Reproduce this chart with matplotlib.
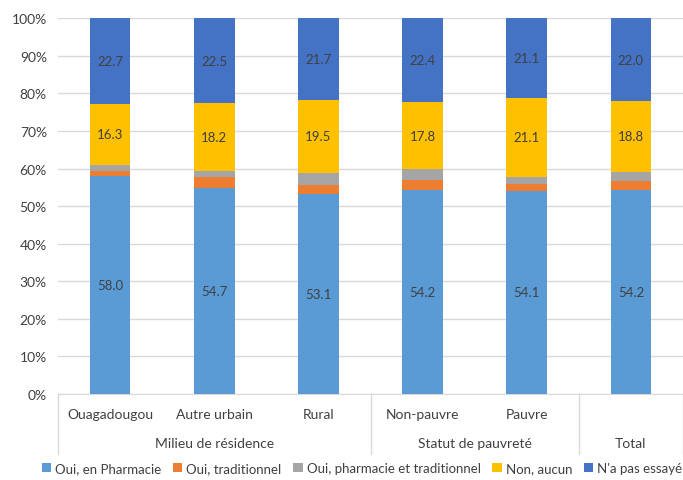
import numpy as np
import matplotlib.pyplot as plt

plt.rcParams['font.family'] = ['Lato', 'DejaVu Sans']

categories = ['Ouagadougou', 'Autre urbain', 'Rural', 'Non-pauvre', 'Pauvre', '']
groups = ['Milieu de résidence', 'Statut de pauvreté', 'Total']
group_sizes = [3, 2, 1]

series_names = ['Oui, en Pharmacie', 'Oui, traditionnel',
                'Oui, pharmacie et traditionnel', 'Non, aucun', "N'a pas essayé"]
pharmacie = [58.0, 54.7, 53.1, 54.2, 54.1, 54.2]
traditionnel = [1.4, 3.0, 2.5, 2.8, 1.7, 2.6]
pharma_trad = [1.6, 1.6, 3.2, 2.8, 2.0, 2.4]
non_aucun = [16.3, 18.2, 19.5, 17.8, 21.1, 18.8]
pas_essaye = [22.7, 22.5, 21.7, 22.4, 21.1, 22.0]
labelled = [True, False, False, True, True]

colors = ['#5B9BD5', '#ED7D31', '#A5A5A5', '#FFC000', '#4472C4']
txt = '#404040'

fig = plt.figure(figsize=(6.83, 4.81), dpi=100)
ax = fig.add_axes([0.085, 0.179, 0.915, 0.781])

pos = np.arange(len(categories))
width = 0.39
bottom = np.zeros(len(pos))
data = [pharmacie, traditionnel, pharma_trad, non_aucun, pas_essaye]
for vals, name, c, lab in zip(data, series_names, colors, labelled):
    vals = np.array(vals)
    ax.bar(pos, vals, width, bottom=bottom, color=c, label=name, zorder=3)
    if lab:
        for x, b, v in zip(pos, bottom, vals):
            ax.text(x, b + v / 2, f'{v:.1f}', ha='center', va='center',
                    fontsize=9.5, color=txt, zorder=4)
    bottom += vals

ax.set_xlim(-0.5, len(pos) - 0.5)
ax.set_ylim(0, 100)
ax.set_yticks(np.arange(0, 101, 10))
ax.set_yticklabels([f'{t}%' for t in range(0, 101, 10)], fontsize=10, color=txt)
ax.yaxis.grid(True, color='#D9D9D9', linewidth=1, zorder=0)
for s in ['top', 'right', 'left']:
    ax.spines[s].set_visible(False)
ax.spines['bottom'].set_color('#D9D9D9')
ax.tick_params(axis='y', length=0, pad=8)
ax.tick_params(axis='x', length=0, pad=10)
ax.set_xticks(pos)
ax.set_xticklabels(categories, fontsize=10, color=txt)

# group labels and separators below the axis
edges = np.concatenate([[0], np.cumsum(group_sizes)]) - 0.5
for i, g in enumerate(groups):
    mid = (edges[i] + edges[i + 1]) / 2
    ax.text(mid, -13, g, ha='center', va='center', fontsize=10, color=txt,
            clip_on=False)
for e in edges:
    ax.plot([e, e], [0, -16], color='#D9D9D9', lw=1, clip_on=False)

leg = fig.legend(loc='lower center', bbox_to_anchor=(0.53, -0.012), ncol=5,
                 frameon=False, fontsize=9.5, handlelength=0.7, handleheight=0.7,
                 handletextpad=0.3, columnspacing=0.9)
for t in leg.get_texts():
    t.set_color(txt)

fig.savefig('out.png', dpi=100)
